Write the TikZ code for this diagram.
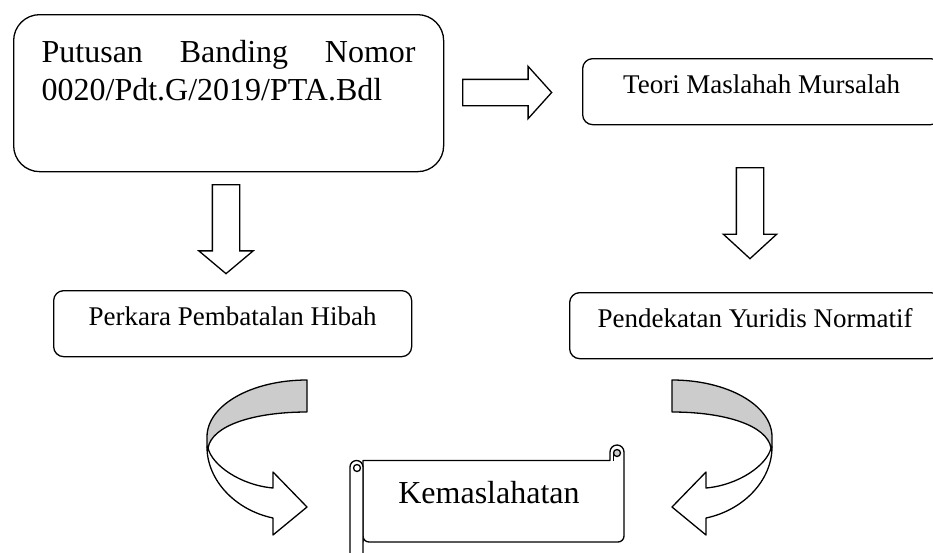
\documentclass[tikz,border=0pt]{standalone}
\usepackage{fontspec}
\setmainfont{Liberation Serif}
\usetikzlibrary{shapes.arrows,positioning}
\tikzset{
  box/.style={rectangle, rounded corners=10pt, draw=black, line width=1.3pt, fill=white,
    align=center, inner sep=0pt, text height=0.7em, text depth=0.25em,
    minimum height=66pt, anchor=north west, font=\fontsize{27}{32}\selectfont},
  hollow/.style={single arrow, draw=black, line width=1.3pt, fill=white, inner sep=13pt,
    anchor=tail, single arrow head extend=13pt},
  ribbon/.style={draw=black, line width=1.3pt, line join=round},
  scroll/.style={draw=black, line width=1.3pt, line join=round},
}
\newcommand{\ribbonarrow}{%
  \draw[ribbon, fill=white] (207,447) .. controls (207,480) and (235,510) .. (273,518)
    -- (273,535) -- (307,507) -- (273,472) -- (273,488)
    .. controls (240,485) and (212,465) .. (208,448) -- cycle;
  \draw[ribbon, fill=black!20] (307,380) .. controls (252,380) and (207,405) .. (207,437)
    -- (207,447) -- (208,448) .. controls (212,425) and (255,412) .. (307,412) -- cycle;
}

\begin{document}
\begin{tikzpicture}[x=1pt, y=-1pt]
  \useasboundingbox (0,0) rectangle (933,552);
  \node[box, rounded corners=26pt, align=left, text width=374pt, inner xsep=28pt,
    inner ysep=24pt, text height=24pt, text depth=85pt, minimum height=0pt,
    font=\fontsize{32}{38}\selectfont] (putusan) at (13,14)
    {Putusan\hfill Banding\hfill Nomor\\0020/Pdt.G/2019/PTA.Bdl};
  \node[box, minimum width=358pt] (teori) at (582,58) {Teori Maslahah Mursalah};
  \node[box, minimum width=358pt] (perkara) at (53,290) {Perkara Pembatalan Hibah};
  \node[box, minimum width=371pt] (pendekatan) at (569,292) {Pendekatan Yuridis Normatif};

  \node[hollow, inner sep=12.5pt, minimum height=89pt, single arrow tip angle=96] (toteori) at (462,92.5) {};
  \node[hollow, shape border rotate=270, minimum height=89pt,
    single arrow head extend=13.5pt, single arrow tip angle=100] (toperkara) at (226,184) {};
  \node[hollow, shape border rotate=270, minimum height=91pt,
    single arrow tip angle=95] (topendekatan) at (750,167) {};

  \ribbonarrow
  \begin{scope}[xshift=979pt, xscale=-1]
    \ribbonarrow
  \end{scope}

  \draw[scroll, fill=white] (363,542) -- (363,460.5) -- (610,460.5) -- (610,452)
    arc[start angle=180, end angle=360, radius=7] [rounded corners=6pt] -- (624,542)
    -- (363,542) [sharp corners] -- cycle;
  \draw[scroll, fill=white] (350,560) -- (350,467) arc[start angle=180, end angle=360, radius=6.5] -- (363,560);
  \draw[scroll, fill=white] (357,468) circle[radius=3.5];
  \draw[scroll, fill=black!20] (617,453) circle[radius=3.5];
  \draw[scroll] (613.5,453) -- (613.5,460.5);
  \node[font=\fontsize{32}{38}\selectfont, anchor=base] (kemas) at (489,503) {Kemaslahatan};
\end{tikzpicture}
\end{document}
